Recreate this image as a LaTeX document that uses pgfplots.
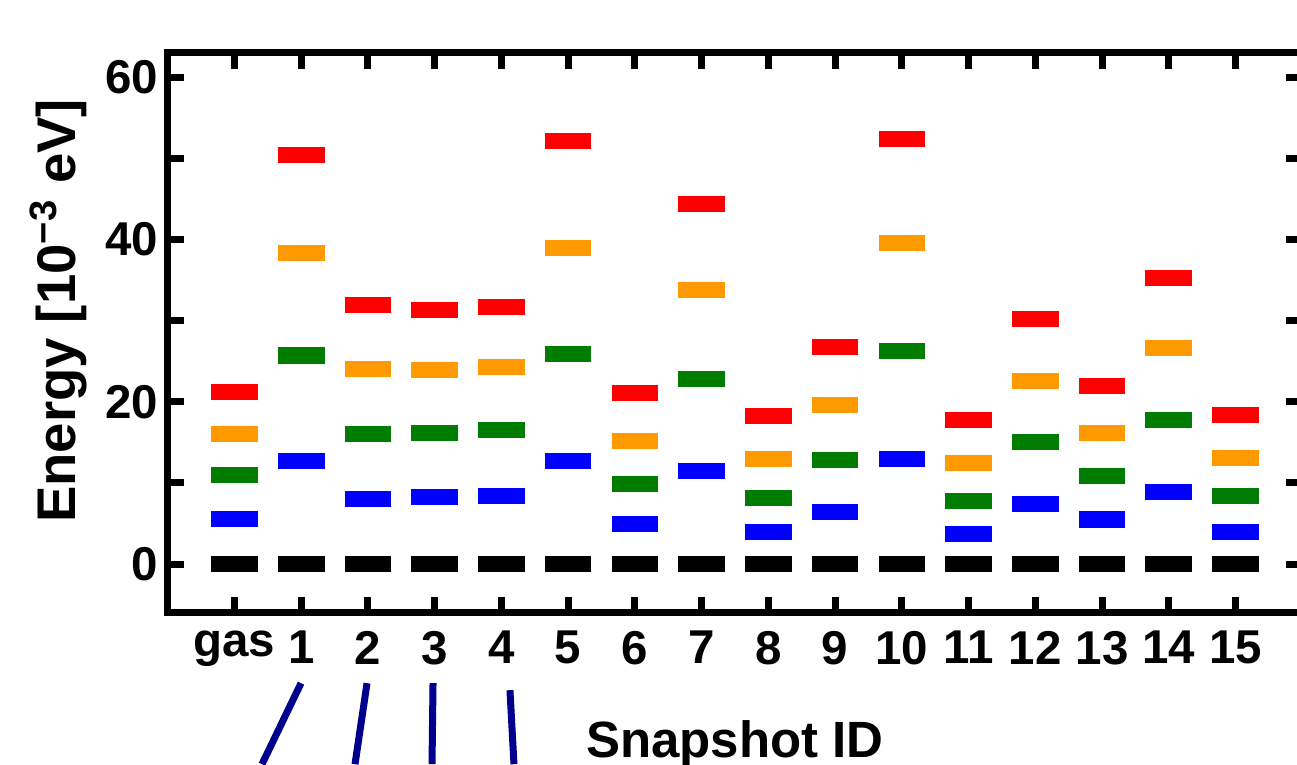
\documentclass[border=0pt]{standalone}
\usepackage{pgfplots}
\pgfplotsset{compat=1.18}
\usepackage{pgfplotstable}
\usepackage{fontspec}
\setmainfont{Liberation Sans}
\definecolor{lvred}{RGB}{255,0,0}
\definecolor{lvorange}{RGB}{255,155,0}
\definecolor{lvgreen}{RGB}{0,125,0}
\definecolor{lvblue}{RGB}{0,0,255}
\definecolor{navyline}{RGB}{0,0,140}
\pgfplotstableread{
x k b g o r
0 0 5.6 11.0 16.0 21.2
1 0 12.7 25.7 38.3 50.4
2 0 8.0 16.0 24.0 31.9
3 0 8.3 16.2 23.9 31.3
4 0 8.4 16.5 24.3 31.7
5 0 12.7 25.9 39.0 52.1
6 0 5.0 9.9 15.2 21.1
7 0 11.5 22.8 33.8 44.3
8 0 3.9 8.1 12.9 18.2
9 0 6.4 12.8 19.6 26.8
10 0 13.0 26.3 39.5 52.4
11 0 3.7 7.8 12.4 17.7
12 0 7.4 15.0 22.6 30.2
13 0 5.5 10.8 16.2 22.0
14 0 8.9 17.8 26.6 35.3
15 0 4.0 8.4 13.1 18.4
}\levels
\begin{document}
\begin{tikzpicture}
\begin{axis}[
  scale only axis, width=113.4mm, height=56mm,
  xmin=-1, xmax=16, ymin=-6, ymax=63,
  clip=false,
  axis line style={line width=0.7mm},
  every tick/.style={black, line width=0.7mm},
  major tick length=1.6mm, minor tick length=1.6mm,
  xtick={0,...,15},
  xticklabels={gas,1,2,3,4,5,6,7,8,9,10,11,12,13,14,15},
  ytick={0,20,40,60}, minor ytick={10,30,50},
  tick label style={font=\fontsize{13.5}{15}\selectfont\bfseries},
  xticklabel style={yshift=-0.6mm},
  yticklabel style={xshift=0.3mm},
  /pgf/number format/assume math mode=true,
  xlabel={Snapshot ID},
  ylabel={Energy [10\textsuperscript{−3} eV]},
  xlabel style={font=\fontsize{14.5}{16}\selectfont\bfseries, at={(axis description cs:0.5,-0.259)}, anchor=base},
  ylabel style={font=\fontsize{15.5}{17}\selectfont\bfseries, at={(axis description cs:-0.0816,0.539)}, anchor=base},
  mark options={solid},
]
\addplot[only marks, mark=-, mark size=2.33mm, mark options={line width=1.6mm, draw=black}] table[x=x,y=k]{\levels};
\addplot[only marks, mark=-, mark size=2.33mm, mark options={line width=1.6mm, draw=lvblue}] table[x=x,y=b]{\levels};
\addplot[only marks, mark=-, mark size=2.33mm, mark options={line width=1.6mm, draw=lvgreen}] table[x=x,y=g]{\levels};
\addplot[only marks, mark=-, mark size=2.33mm, mark options={line width=1.6mm, draw=lvorange}] table[x=x,y=o]{\levels};
\addplot[only marks, mark=-, mark size=2.33mm, mark options={line width=1.6mm, draw=lvred}] table[x=x,y=r]{\levels};
\draw[navyline, line width=0.7mm] (axis cs:0.997,-14.66) -- (axis cs:0.412,-24.64);
\draw[navyline, line width=0.7mm] (axis cs:1.986,-14.66) -- (axis cs:1.806,-24.64);
\draw[navyline, line width=0.7mm] (axis cs:2.975,-14.66) -- (axis cs:2.960,-24.64);
\draw[navyline, line width=0.7mm] (axis cs:4.128,-15.52) -- (axis cs:4.188,-24.64);
\coordinate (bbsw) at (axis cs:-3.514,-24.64);
\coordinate (bbne) at (axis cs:15.922,69.49);
\end{axis}
\pgfresetboundingbox
\path[use as bounding box] (bbsw) rectangle (bbne);
\end{tikzpicture}
\end{document}
